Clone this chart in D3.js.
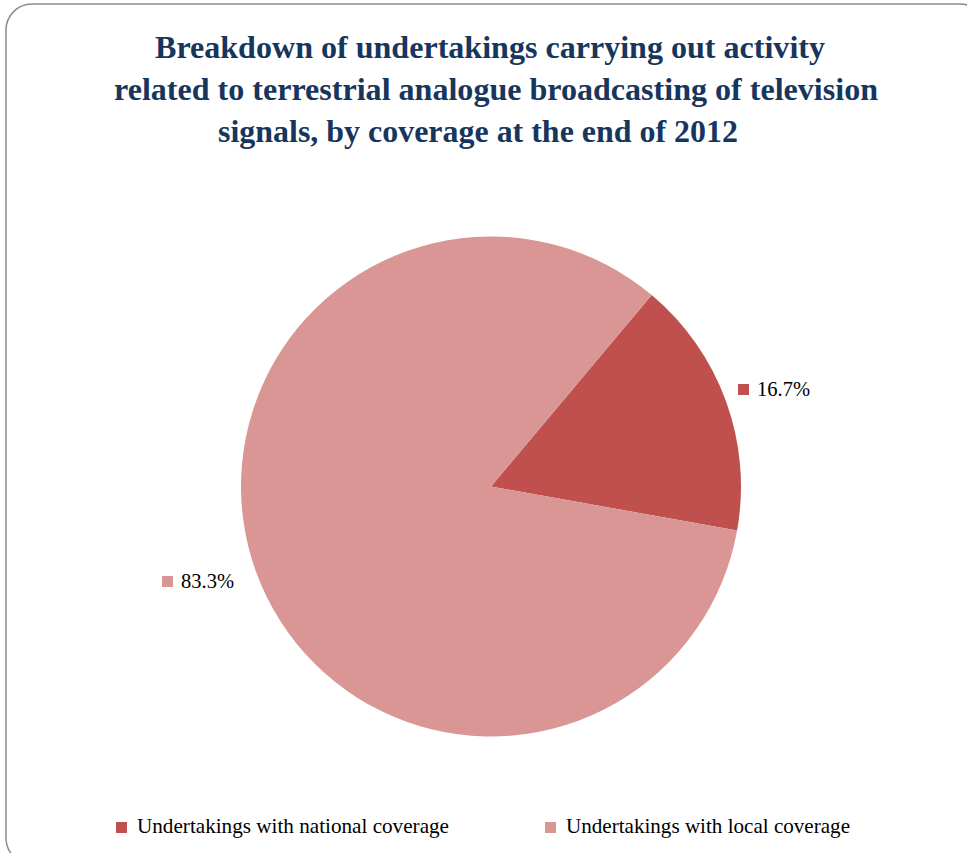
<!DOCTYPE html>
<html>
<head>
<meta charset="utf-8">
<script src="https://cdn.jsdelivr.net/npm/d3@7"></script>
<style>
  html, body { margin: 0; padding: 0; background: #fff; }
  svg { display: block; }
</style>
</head>
<body>
<svg id="chart" width="967" height="853"></svg>
<script>
// Coverage categories and their shares (%)
const categories = ["Undertakings with national coverage", "Undertakings with local coverage"];
const shares = [16.7, 83.3];
const shareLabels = ["16.7%", "83.3%"];
const colors = ["#C0504D", "#D99694"];
const titleLines = [
  "Breakdown of undertakings carrying out activity",
  "related to terrestrial analogue broadcasting of television",
  "signals, by coverage at the end of 2012"
];

const svg = d3.select("#chart");
const serif = "'Liberation Serif', 'Times New Roman', serif";

// Rounded frame around the chart area
svg.append("rect")
  .attr("x", 6).attr("y", 4)
  .attr("width", 980).attr("height", 860)
  .attr("rx", 26).attr("ry", 26)
  .attr("fill", "none")
  .attr("stroke", "#8c8c8c")
  .attr("stroke-width", 1.5);

// Title
const titleX = [155, 114, 218];
const titleW = [670, 764, 520];
const titleY = [58, 100, 142];
titleLines.forEach((t, i) => {
  svg.append("text")
    .attr("x", titleX[i]).attr("y", titleY[i])
    .attr("textLength", titleW[i])
    .attr("lengthAdjust", "spacingAndGlyphs")
    .attr("font-family", serif)
    .attr("font-weight", "bold")
    .attr("font-size", 31)
    .attr("fill", "#17365D")
    .text(t);
});

// Pie
const cx = 491, cy = 486.5, r = 250;
const startOffset = 40 * Math.PI / 180;
const pie = d3.pie().sort(null)
  .startAngle(startOffset)
  .endAngle(startOffset + 2 * Math.PI)
  .value(d => d);
const arcs = pie(shares);
const arc = d3.arc().innerRadius(0).outerRadius(r);

const g = svg.append("g").attr("transform", `translate(${cx},${cy})`);
g.selectAll("path")
  .data(arcs)
  .join("path")
  .attr("d", arc)
  .attr("fill", (d, i) => colors[i]);

// Data labels with colour keys
const labelPos = [[738, 384], [162, 576]];
arcs.forEach((d, i) => {
  const [lx, ly] = labelPos[i];
  svg.append("rect")
    .attr("x", lx).attr("y", ly)
    .attr("width", 11).attr("height", 11)
    .attr("fill", colors[i]);
  svg.append("text")
    .attr("x", lx + 19).attr("y", ly + 11.5)
    .attr("textLength", 53)
    .attr("lengthAdjust", "spacingAndGlyphs")
    .attr("font-family", serif)
    .attr("font-size", 20.5)
    .attr("fill", "#000")
    .text(shareLabels[i]);
});

// Legend
const legendX = [116, 545];
const legendW = [312, 284];
categories.forEach((c, i) => {
  svg.append("rect")
    .attr("x", legendX[i]).attr("y", 822)
    .attr("width", 11).attr("height", 11)
    .attr("fill", colors[i]);
  svg.append("text")
    .attr("x", legendX[i] + 21).attr("y", 833)
    .attr("textLength", legendW[i])
    .attr("lengthAdjust", "spacingAndGlyphs")
    .attr("font-family", serif)
    .attr("font-size", 22)
    .attr("fill", "#000")
    .text(c);
});
</script>
</body>
</html>
